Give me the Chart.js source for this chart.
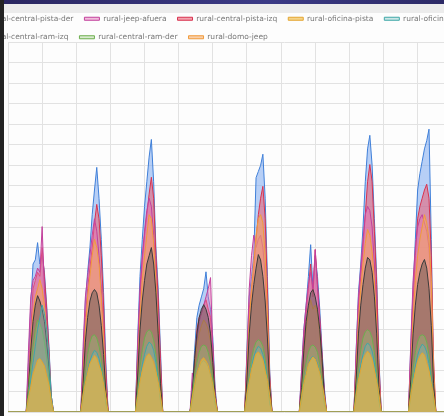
<!DOCTYPE html>
<html>
<head>
<meta charset="utf-8">
<script src="https://cdn.jsdelivr.net/npm/chart.js@4.4.0/dist/chart.umd.min.js"></script>
<style>
  html, body { margin: 0; padding: 0; width: 444px; height: 416px; overflow: hidden; background: #fdfdfd; }
  #topbar { position: absolute; left: 0; top: 0; width: 444px; height: 4px; background: linear-gradient(90deg, #2a2660, #3b3a86 60%, #2c2a66); z-index: 3; }
  #band { position: absolute; left: 0; top: 4px; width: 444px; height: 9px; background: #ececec; z-index: 0; }
  #leftbar { position: absolute; left: 0; top: 0; width: 4px; height: 416px; background: #232323; z-index: 3; }
  #wrap { position: absolute; left: -39px; top: 4px; width: 600px; height: 460px; z-index: 1; }
</style>
</head>
<body>
<div id="topbar"></div>
<div id="band"></div>
<div id="leftbar"></div>
<div id="wrap"><canvas id="myChart"></canvas></div>
<script>
// hour of each reading (0 = first sample), only daylight hours are listed
const hours = [0,
  8, 9, 10, 11, 12, 13, 14, 15, 16, 17, 18, 19, 20,
  32, 33, 34, 35, 36, 37, 38, 39, 40, 41, 42, 43, 44,
  56, 57, 58, 59, 60, 61, 62, 63, 64, 65, 66, 67, 68,
  80, 81, 82, 83, 84, 85, 86, 87, 88, 89, 90, 91, 92,
  104, 105, 106, 107, 108, 109, 110, 111, 112, 113, 114, 115, 116,
  128, 129, 130, 131, 132, 133, 134, 135, 136, 137, 138, 139, 140,
  152, 153, 154, 155, 156, 157, 158, 159, 160, 161, 162, 163, 164,
  176, 177, 178, 179, 180, 181, 182, 183, 184, 185, 186, 187, 188,
  243];

const centralPistaDer = [0,
  0, 120, 260, 360, 370, 412, 360, 380, 340, 260, 160, 40, 0,
  0, 130, 270, 340, 400, 480, 540, 595, 520, 420, 290, 120, 0,
  0, 180, 330, 420, 500, 560, 620, 663, 560, 400, 300, 150, 0,
  0, 60, 150, 230, 260, 280, 300, 341, 280, 250, 180, 60, 0,
  0, 150, 280, 330, 380, 570, 585, 600, 627, 520, 330, 100, 0,
  0, 100, 200, 260, 330, 407, 300, 380, 330, 250, 150, 60, 0,
  0, 150, 290, 360, 450, 560, 640, 673, 600, 470, 330, 130, 0,
  0, 160, 300, 420, 540, 580, 610, 640, 660, 688, 420, 60, 0,
  0];
const jeepAfuera = [0,
  0, 150, 280, 320, 330, 350, 340, 451, 300, 220, 120, 30, 0,
  0, 160, 280, 330, 380, 430, 470, 440, 380, 300, 200, 80, 0,
  0, 170, 300, 380, 440, 490, 520, 500, 430, 330, 220, 90, 0,
  0, 95, 70, 170, 220, 240, 260, 280, 300, 327, 150, 40, 0,
  0, 140, 300, 380, 430, 400, 420, 430, 400, 330, 220, 70, 0,
  0, 100, 200, 260, 310, 340, 300, 395, 300, 220, 130, 40, 0,
  0, 150, 280, 350, 420, 480, 500, 490, 450, 360, 240, 90, 0,
  0, 170, 320, 400, 450, 470, 480, 460, 440, 400, 300, 100, 0,
  0];
const centralPistaIzq = [0,
  0, 80, 200, 300, 320, 340, 330, 400, 330, 250, 150, 40, 0,
  0, 100, 230, 300, 350, 400, 460, 505, 470, 380, 260, 100, 0,
  0, 140, 280, 370, 430, 480, 530, 571, 520, 380, 280, 130, 0,
  0, 40, 120, 200, 230, 240, 260, 273, 250, 230, 160, 50, 0,
  0, 120, 250, 300, 340, 420, 480, 520, 549, 470, 300, 90, 0,
  0, 80, 180, 240, 300, 360, 280, 395, 310, 230, 140, 50, 0,
  0, 130, 260, 330, 400, 480, 560, 602, 560, 440, 310, 120, 0,
  0, 140, 270, 380, 470, 500, 520, 540, 554, 520, 380, 130, 0,
  0];
const oficinaPista = [0,
  0, 35, 62, 92, 108, 126, 130, 122, 112, 88, 66, 30, 0,
  0, 42, 70, 96, 118, 128, 138, 131, 114, 97, 68, 38, 0,
  0, 38, 74, 101, 121, 137, 142, 133, 121, 98, 73, 41, 0,
  0, 36, 66, 93, 110, 127, 132, 124, 113, 90, 67, 35, 0,
  0, 44, 73, 104, 122, 141, 146, 138, 126, 100, 77, 40, 0,
  0, 37, 69, 92, 116, 126, 134, 129, 112, 95, 66, 39, 0,
  0, 41, 78, 103, 128, 140, 148, 141, 127, 102, 75, 44, 0,
  0, 42, 71, 99, 123, 136, 144, 139, 120, 101, 70, 41, 0,
  0];
const oficinaRam = [0,
  0, 30, 80, 120, 160, 200, 230, 260, 240, 200, 130, 40, 0,
  0, 30, 70, 100, 125, 140, 150, 145, 130, 105, 70, 20, 0,
  0, 35, 80, 115, 140, 160, 170, 165, 150, 120, 80, 25, 0,
  0, 25, 60, 90, 110, 120, 125, 120, 110, 90, 60, 20, 0,
  0, 30, 75, 110, 135, 150, 160, 155, 140, 115, 75, 20, 0,
  0, 25, 65, 95, 115, 130, 135, 130, 118, 95, 65, 20, 0,
  0, 35, 80, 115, 140, 160, 168, 162, 148, 120, 80, 25, 0,
  0, 35, 78, 112, 138, 155, 165, 160, 146, 118, 78, 25, 0,
  0];
const centralRamIzq = [0,
  0, 60, 150, 220, 260, 283, 270, 250, 220, 170, 110, 30, 0,
  0, 70, 170, 230, 270, 290, 298, 290, 260, 210, 140, 50, 0,
  0, 90, 200, 270, 320, 360, 380, 400, 360, 290, 190, 70, 0,
  0, 50, 130, 190, 230, 250, 261, 250, 230, 190, 120, 40, 0,
  0, 80, 190, 260, 310, 350, 383, 370, 330, 270, 180, 60, 0,
  0, 60, 150, 220, 260, 290, 298, 280, 250, 200, 130, 40, 0,
  0, 80, 190, 260, 310, 350, 376, 370, 340, 280, 190, 60, 0,
  0, 80, 190, 260, 310, 340, 360, 371, 350, 300, 210, 70, 0,
  0];
const centralRamDer = [0,
  0, 50, 110, 160, 200, 224, 215, 200, 170, 130, 80, 20, 0,
  0, 40, 100, 140, 170, 185, 188, 180, 160, 130, 80, 20, 0,
  0, 50, 110, 150, 180, 195, 200, 195, 175, 140, 90, 30, 0,
  0, 40, 90, 120, 145, 160, 163, 160, 145, 120, 80, 20, 0,
  0, 40, 95, 130, 155, 170, 176, 172, 160, 130, 85, 25, 0,
  0, 40, 90, 120, 145, 160, 163, 158, 145, 115, 75, 20, 0,
  0, 50, 110, 150, 180, 195, 200, 196, 180, 145, 95, 30, 0,
  0, 45, 105, 145, 170, 185, 188, 185, 170, 140, 90, 30, 0,
  0];
const domoJeep = [0,
  0, 60, 160, 240, 280, 300, 322, 300, 260, 200, 120, 30, 0,
  0, 80, 200, 280, 330, 380, 420, 400, 360, 280, 180, 60, 0,
  0, 100, 230, 320, 380, 430, 480, 470, 410, 320, 200, 80, 0,
  0, 40, 100, 160, 190, 210, 224, 215, 200, 170, 110, 30, 0,
  0, 100, 220, 300, 360, 430, 470, 480, 460, 380, 240, 70, 0,
  0, 60, 140, 200, 240, 273, 250, 260, 240, 190, 110, 30, 0,
  0, 100, 220, 300, 360, 410, 444, 430, 390, 320, 220, 80, 0,
  0, 100, 230, 320, 380, 420, 450, 480, 460, 420, 320, 100, 0,
  0];

function pts(values) {
  return values.map((v, i) => ({ x: hours[i], y: v }));
}

function series(label, values, line, fill, order) {
  return {
    label: label,
    data: pts(values),
    borderColor: line,
    backgroundColor: fill,
    borderWidth: 1,
    pointRadius: 0,
    fill: 'origin',
    order: order
  };
}

// pull the plot up closer to the legend
const legendGap = {
  id: 'legendGap',
  beforeInit(chart) {
    const origFit = chart.legend.fit;
    chart.legend.fit = function () {
      origFit.call(this);
      this.height -= 9;
    };
  }
};

const ctx = document.getElementById('myChart').getContext('2d');
new Chart(ctx, {
  type: 'line',
  data: {
    datasets: [
      series('rural-central-pista-der', centralPistaDer, '#3f7fd8', 'rgba(125,170,240,0.55)', 8),
      series('rural-jeep-afuera', jeepAfuera, '#c2409c', 'rgba(228,110,180,0.45)', 6),
      series('rural-central-pista-izq', centralPistaIzq, '#d8324f', 'rgba(235,90,110,0.55)', 7),
      series('rural-oficina-pista', oficinaPista, '#e3a530', 'rgba(240,185,60,0.6)', 1),
      series('rural-oficina-ram', oficinaRam, '#3ea7a7', 'rgba(110,190,190,0.35)', 2),
      series('rural-central-ram-izq', centralRamIzq, '#3a3a3a', 'rgba(100,90,85,0.5)', 4),
      series('rural-central-ram-der', centralRamDer, '#6cae4e', 'rgba(150,200,120,0.35)', 3),
      series('rural-domo-jeep', domoJeep, '#f09a3a', 'rgba(245,170,100,0.55)', 5)
    ]
  },
  options: {
    responsive: true,
    maintainAspectRatio: false,
    animation: false,
    plugins: {
      legend: {
        position: 'top',
        align: 'start',
        labels: {
          font: { family: 'DejaVu Sans', size: 7.5 },
          color: '#777',
          boxWidth: 15,
          boxHeight: 3,
          padding: 11,
          sort: (a, b) => a.datasetIndex - b.datasetIndex
        }
      },
      tooltip: { enabled: false }
    },
    scales: {
      x: {
        type: 'linear',
        min: 0,
        max: 243,
        ticks: { display: false, stepSize: 15 },
        grid: { color: '#e2e2e2', drawTicks: false },
        border: { display: false },
        afterFit: (s) => { s.height = 52; }
      },
      y: {
        min: 0,
        max: 900,
        ticks: { display: false, stepSize: 50 },
        grid: { color: '#e2e2e2', drawTicks: false },
        border: { display: false },
        afterFit: (s) => { s.width = 47; }
      }
    }
  },
  plugins: [legendGap]
});
</script>
</body>
</html>
